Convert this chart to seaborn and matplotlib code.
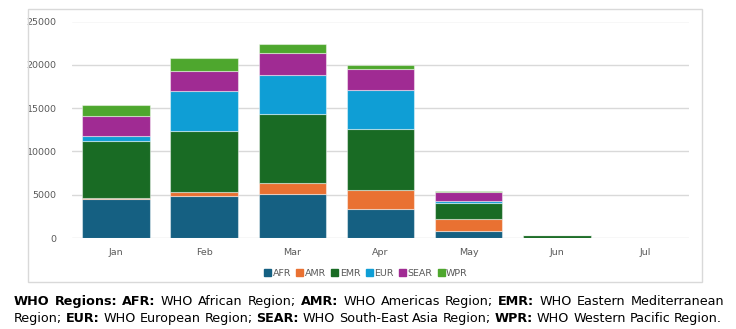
import matplotlib
matplotlib.use("Agg")
import matplotlib.pyplot as plt
from matplotlib.patches import Rectangle
import numpy as np
import pandas as pd
import seaborn as sns

# Monthly counts by WHO region
months = ["Jan", "Feb", "Mar", "Apr", "May", "Jun", "Jul"]
regions = ["AFR", "AMR", "EMR", "EUR", "SEAR", "WPR"]
afr = [4500, 4880, 5115, 3310, 810, 20, 0]
amr = [150, 430, 1195, 2200, 1380, 30, 0]
emr = [6550, 7080, 8010, 7110, 1810, 300, 0]
eur = [540, 4580, 4470, 4470, 270, 0, 0]
sear = [2380, 2310, 2610, 2430, 1040, 0, 0]
wpr = [1200, 1540, 1040, 490, 80, 0, 0]
yticks = [0, 5000, 10000, 15000, 20000, 25000]

colors = ["#156082", "#E97132", "#196B24", "#0F9ED5", "#A02B93", "#4EA72E"]
series = [afr, amr, emr, eur, sear, wpr]

df = pd.DataFrame({
    "month": np.repeat(months, len(regions)).tolist(),
    "region": regions * len(months),
    "value": [series[r][m] for m in range(len(months)) for r in range(len(regions))],
})

sns.set_theme(style="white")
plt.rcParams["font.family"] = ["DejaVu Sans"]

W, H = 736, 329
fig = plt.figure(figsize=(W / 100, H / 100), dpi=100)
ax = fig.add_axes([72 / W, 1 - 238 / H, (689 - 72) / W, (238 - 21.5) / H])

# Stacked bars: each region sits on the running total of the ones below
bottom = np.zeros(len(months))
for reg, col in zip(regions, colors):
    sub = df[df["region"] == reg].set_index("month").loc[months].reset_index()
    sns.barplot(data=sub, x="month", y="value", order=months, color=col,
                width=0.766, bottom=bottom, ax=ax, label=reg,
                edgecolor=(1, 1, 1, 0.45), linewidth=0.8, saturation=1)
    bottom = bottom + sub["value"].to_numpy()

ax.set_ylim(0, 25000)
ax.set_xlim(-0.5, len(months) - 0.5)
ax.set_yticks(yticks)
ax.set_yticklabels([str(t) for t in yticks])
ax.yaxis.grid(True, color="#d9d9d9", linewidth=1.0)
ax.set_axisbelow(True)
for s in ax.spines.values():
    s.set_visible(False)
ax.set_xlabel("")
ax.set_ylabel("")
ax.tick_params(axis="both", length=0, labelsize=6.8, labelcolor="#595959")
ax.tick_params(axis="y", pad=11)
ax.tick_params(axis="x", pad=7)
if ax.get_legend() is not None:
    ax.get_legend().remove()

# Legend below the plot
handles = [Rectangle((0, 0), 1, 1, color=c) for c in colors]
fig.legend(handles, regions, loc="center", bbox_to_anchor=(366 / W, 1 - 273.5 / H),
           ncol=6, frameon=False, fontsize=6.8, handlelength=0.75, handleheight=0.75,
           handletextpad=0.15, columnspacing=0.55, labelcolor="#595959")

# Chart frame
fig.patches.append(Rectangle((28 / W, 1 - 282 / H), (702 - 28) / W, (282 - 9) / H,
                             transform=fig.transFigure, fill=False,
                             edgecolor="#d9d9d9", linewidth=1.0))

# Footnote, justified across the width (runs of bold / regular words)
lines = [
    [("WHO", True), ("Regions:", True), ("AFR:", True), ("WHO", False), ("African", False),
     ("Region;", False), ("AMR:", True), ("WHO", False), ("Americas", False), ("Region;", False),
     ("EMR:", True), ("WHO", False), ("Eastern", False), ("Mediterranean", False)],
    [("Region;", False), ("EUR:", True), ("WHO", False), ("European", False), ("Region;", False),
     ("SEAR:", True), ("WHO", False), ("South-East", False), ("Asia", False), ("Region;", False),
     ("WPR:", True), ("WHO", False), ("Western", False), ("Pacific", False), ("Region.", False)],
]
x_left = 14
rights = [724, 722]
ys = [301.5, 318.5]
fs = 9.2
renderer = fig.canvas.get_renderer()

for words, y, x_right in zip(lines, ys, rights):
    texts = [fig.text(0, 0, w, fontsize=fs, fontweight="bold" if b else "normal",
                      color="black", va="center", ha="left") for w, b in words]
    widths = [t.get_window_extent(renderer).width for t in texts]
    gap = (x_right - x_left - sum(widths)) / (len(texts) - 1)
    x = x_left
    for t, w in zip(texts, widths):
        t.set_position((x / W, 1 - y / H))
        x += w + gap

fig.savefig("out.png", dpi=100)
